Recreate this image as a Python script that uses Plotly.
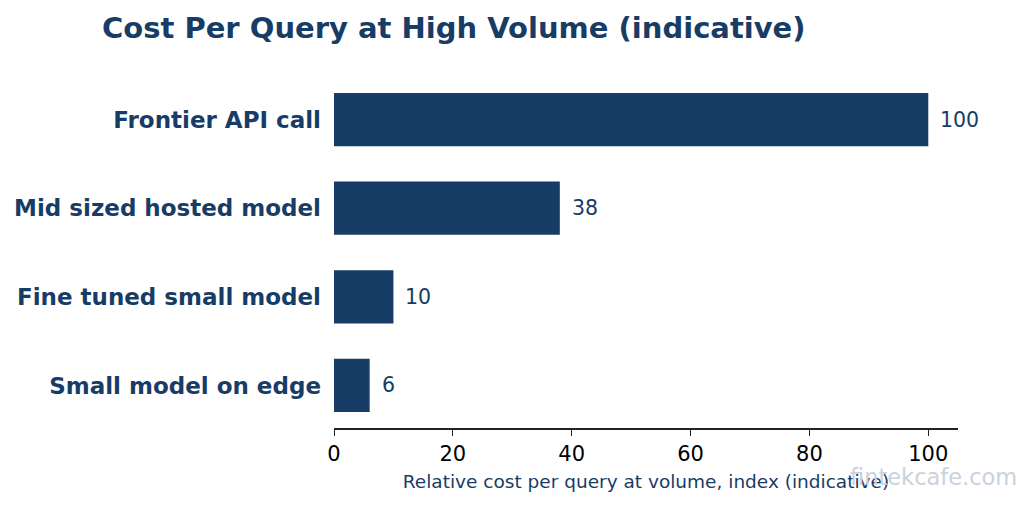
import plotly.graph_objects as go

categories = ["Frontier API call", "Mid sized hosted model", "Fine tuned small model", "Small model on edge"]
values = [100, 38, 10, 6]
x_ticks = [0, 20, 40, 60, 80, 100]

NAVY = "#173c66"

fig = go.Figure()
fig.add_trace(go.Bar(
    x=values[::-1], y=categories[::-1], orientation="h",
    marker=dict(color=NAVY, line=dict(width=0)), width=0.6,
    hoverinfo="skip",
))
for c, v in zip(categories, values):
    fig.add_annotation(x=v, y=c, text=str(v), showarrow=False, xanchor="left",
                       xshift=10, font=dict(family="DejaVu Sans", size=20.5, color=NAVY))

fig.add_annotation(text="Cost Per Query at High Volume (indicative)", xref="paper", yref="paper",
                   x=(454 - 334) / (958 - 334), y=1, yshift=49, showarrow=False, xanchor="center",
                   yanchor="middle", font=dict(family="DejaVu Sans", size=29, color=NAVY, weight="bold"))
fig.add_annotation(text="fintekcafe.com", xref="paper", yref="paper", x=(1019 - 334) / (958 - 334),
                   y=0, yshift=-49, showarrow=False, xanchor="right", yanchor="middle",
                   font=dict(family="DejaVu Sans", size=22.5, color="#c9d2dd"))

fig.update_layout(
    width=1033, height=505,
    margin=dict(l=334, r=75, t=77, b=77),
    plot_bgcolor="white", paper_bgcolor="white",
    showlegend=False,
    xaxis=dict(range=[0, 105], tickvals=x_ticks, showgrid=False, zeroline=False,
               showline=True, linecolor="#222", linewidth=1.5, ticks="outside", ticklen=6,
               tickcolor="#222", tickwidth=1.2,
               tickfont=dict(family="DejaVu Sans", size=21, color="black"),
               title=dict(text="Relative cost per query at volume, index (indicative)",
                          font=dict(family="DejaVu Sans", size=18.5, color=NAVY), standoff=10)),
    yaxis=dict(range=[-0.48, 3.48], showgrid=False, zeroline=False, showline=False, ticks="",
               ticklabelstandoff=12,
               tickfont=dict(family="DejaVu Sans", size=23, color=NAVY, weight="bold")),
)
fig.write_html("out.html")
